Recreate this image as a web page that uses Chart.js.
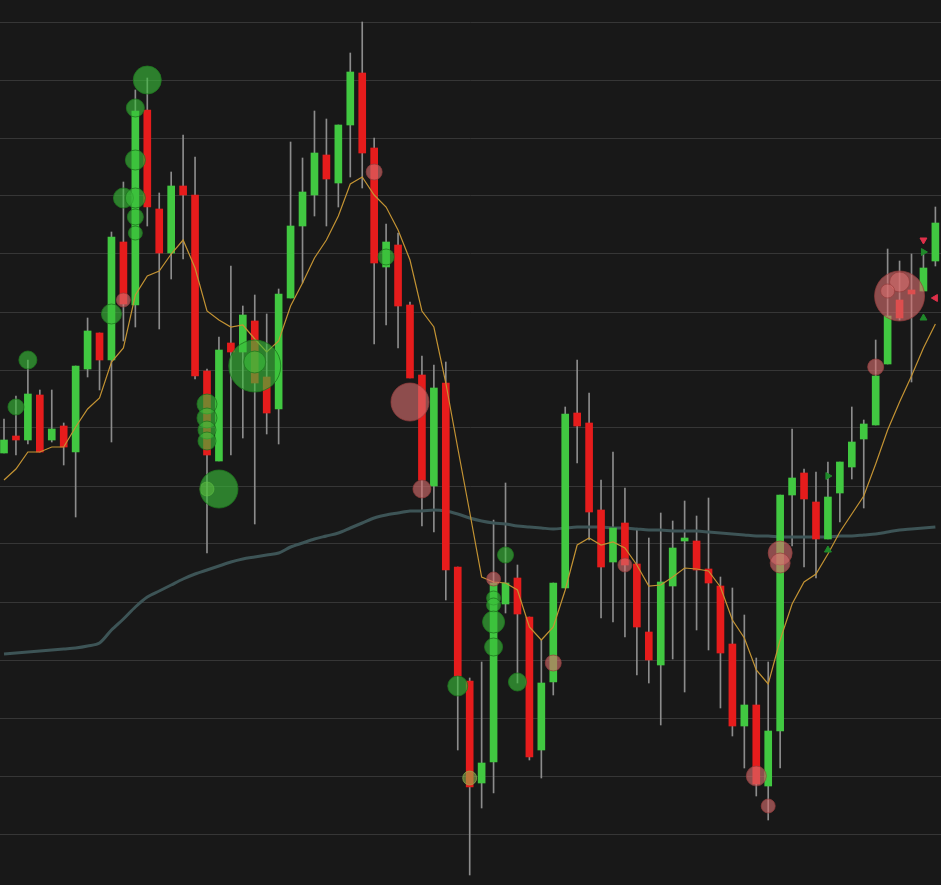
<!DOCTYPE html>
<html>
<head>
<meta charset="utf-8">
<script src="https://cdn.jsdelivr.net/npm/chart.js@4.4.1/dist/chart.umd.min.js"></script>
<style>
  html, body { margin: 0; padding: 0; background: #181818; }
  canvas { display: block; }
</style>
</head>
<body>
<canvas id="grafica" width="941" height="885"></canvas>
<script>
// datos de velas (índice = sesión)
const opens  = [43.2,44.9,44.5,49.0,44.5,45.9,43.3,51.6,55.2,52.5,64.3,58.0,77.5,67.6,63.2,69.9,69.0,51.4,42.4,54.2,
                53.3,56.4,50.8,47.6,58.7,65.9,69.0,73.0,70.2,76.0,81.2,73.7,61.8,64.0,58.0,51.0,39.9,50.2,31.8,20.4,
                10.2,12.3,28.1,30.7,26.8,13.5,20.3,29.7,47.2,46.2,37.5,32.3,36.2,32.1,25.3,22.0,29.9,34.4,34.4,31.6,
                29.9,24.1,15.9,18.0,9.9,15.4,39.0,41.2,38.3,34.6,39.2,41.8,44.6,46.0,52.1,58.5,59.5,59.4,62.4];
const closes = [44.5,44.5,49.1,43.3,45.6,43.8,51.9,55.4,52.5,64.8,58.1,77.4,67.8,63.2,69.9,69.0,50.9,43.0,53.5,53.3,
                57.0,50.2,47.2,59.1,65.9,69.3,73.2,70.6,76.0,81.3,73.2,62.2,64.3,57.9,50.7,40.5,49.7,31.5,20.9,9.8,
                12.2,30.2,30.2,27.1,12.8,20.2,30.2,47.1,45.9,37.3,31.8,35.7,32.0,25.8,22.5,30.3,33.7,34.7,31.5,30.2,
                23.2,15.9,18.0,10.1,15.4,39.0,40.7,38.6,34.6,38.8,42.3,44.3,46.1,50.9,56.9,56.7,59.1,61.7,66.2];
const highs  = [46.6,48.9,52.5,49.5,49.5,46.2,51.9,56.7,55.2,65.3,70.3,79.5,80.7,69.2,71.3,75.0,72.8,51.6,54.8,61.9,
                57.9,59.0,57.1,59.6,74.3,72.7,77.4,76.6,76.0,83.2,86.3,74.7,66.1,65.2,58.3,52.9,52.0,52.3,31.8,20.7,
                22.3,36.5,40.2,32.0,26.8,24.5,30.2,47.8,52.5,49.2,40.5,43.3,39.7,35.5,34.7,37.2,36.4,38.4,36.9,38.7,
                30.8,29.7,27.0,22.7,22.3,39.0,45.6,41.6,41.3,42.3,42.3,47.8,46.5,54.5,63.6,62.4,63.1,63.1,67.8];
const lows   = [43.2,43.0,44.1,43.3,44.3,42.0,36.8,50.8,49.5,44.3,54.4,55.8,65.9,55.6,60.6,62.6,50.6,33.2,42.4,43.0,
                44.7,36.1,45.1,44.1,58.7,60.2,66.9,65.9,67.8,70.8,69.7,54.1,56.0,53.7,50.7,35.9,35.3,28.5,13.5,1.0,
                7.7,9.2,27.2,20.2,12.5,10.7,19.0,29.7,42.2,34.5,26.7,26.3,24.8,21.0,20.2,16.0,22.6,19.3,25.5,23.5,
                17.7,14.9,11.7,8.9,6.5,11.7,33.9,31.8,30.7,34.6,36.3,40.6,37.7,46.0,52.1,56.5,50.3,59.4,61.9];

// media corta (naranja) y media larga (gris azulado)
const smaCorta = [40.5,41.6,43.3,43.3,43.8,43.8,45.8,47.6,48.7,52.3,53.7,59.0,60.9,61.4,63.1,64.5,61.7,57.4,56.5,55.8,
                  56.0,54.6,53.3,54.4,57.9,60.2,62.7,64.5,66.9,70.1,70.8,69.0,67.8,65.5,62.5,57.4,55.8,50.2,43.7,37.3,
                  30.8,30.3,30.2,29.5,25.8,24.5,25.8,29.5,34.0,34.7,34.0,34.3,33.7,32.0,29.9,30.0,30.8,31.7,31.6,31.4,
                  29.8,26.5,24.7,21.5,20.1,24.5,28.1,30.3,31.1,33.1,35.3,37.1,38.9,42.1,45.5,48.3,50.9,53.7,56.1];
const smaLarga = [23.1,23.2,23.3,23.4,23.5,23.6,23.7,23.9,24.2,25.5,26.6,27.8,28.8,29.4,30.0,30.6,31.1,31.5,31.9,32.3,
                  32.6,32.8,33.0,33.2,33.8,34.2,34.6,34.9,35.2,35.7,36.2,36.7,37.0,37.2,37.4,37.4,37.5,37.4,37.1,36.7,
                  36.4,36.2,36.1,35.9,35.8,35.7,35.6,35.7,35.8,35.8,35.8,35.7,35.7,35.6,35.5,35.5,35.4,35.4,35.4,35.3,
                  35.2,35.1,35.0,34.9,34.9,34.8,34.8,34.8,34.8,34.8,34.9,34.9,35.0,35.1,35.3,35.5,35.6,35.7,35.8];

// operaciones: [índice, precio, tamaño]
const comprasG = [[1,47.8,8],[2,52.5,9],[9,57.1,10],[10,68.7,10],[11,77.7,9],[11,72.5,10],[11,68.7,10],[11,66.8,8],
                  [11,65.2,7],[12,80.5,14],[17,48.1,10],[17,46.7,10],[17,45.5,9],[17,44.4,9],[18,39.6,19],
                  [21,51.9,26],[21,52.3,11],[32,62.8,8],[38,19.9,10],[41,28.7,7],[41,28.0,7],[41,26.3,11],
                  [41,23.8,9],[42,33.0,8],[43,20.3,9]];
const comprasClaras = [[17,39.6,7],[39,10.7,7]];
const ventasR = [[10,58.5,7],[31,71.3,8],[34,48.3,19],[35,39.6,9],[41,30.6,7],[46,22.2,8],[52,32.0,7],[63,10.9,10],
                 [64,7.9,7],[65,33.2,12],[65,32.2,10],[73,51.8,8],[75,58.9,25],[75,60.3,10],[74,59.4,7]];
const flechas = [[77,64.5,180,"#e0304a"],[77,56.7,0,"#1f8a2a"],[69,33.5,0,"#1f8a2a"],[69,40.9,90,"#1f8a2a"],
                 [77,63.3,90,"#1f8a2a"],[78,58.7,270,"#e0304a"]];

const nivelesGrilla = [86.3,80.5,74.7,68.9,63.1,57.3,51.5,45.7,39.9,34.1,28.3,22.5,16.7,10.9,5.1];

const VERDE = "#41c841";
const ROJO = "#e61c1c";

const fondo = {
    id: "fondo",
    beforeDraw(c) {
        const ctx = c.ctx;
        ctx.save();
        ctx.fillStyle = "#181818";
        ctx.fillRect(0, 0, c.width, c.height);
        ctx.restore();
    }
};

const idx = opens.map((_, i) => i);
const colores = idx.map(i => closes[i] >= opens[i] ? VERDE : ROJO);
const aBurbuja = arr => arr.map(b => ({ x: b[0], y: b[1], r: b[2] }));

new Chart(document.getElementById("grafica"), {
    data: {
        datasets: [
            {
                type: "bubble", order: 0, clip: false,
                data: aBurbuja(comprasG),
                backgroundColor: "rgba(58,190,58,0.62)", borderColor: "rgba(30,120,30,0.8)", borderWidth: 1
            },
            {
                type: "bubble", order: 0, clip: false,
                data: aBurbuja(comprasClaras),
                backgroundColor: "rgba(150,190,80,0.55)", borderColor: "rgba(150,190,80,0.6)", borderWidth: 1
            },
            {
                type: "bubble", order: 0, clip: false,
                data: aBurbuja(ventasR),
                backgroundColor: "rgba(215,110,110,0.62)", borderColor: "rgba(150,60,60,0.7)", borderWidth: 1
            },
            {
                type: "scatter", order: 0, clip: false,
                data: flechas.map(f => ({ x: f[0], y: f[1] })),
                pointStyle: "triangle", pointRadius: 4,
                rotation: flechas.map(f => f[2]),
                backgroundColor: flechas.map(f => f[3]), borderColor: flechas.map(f => f[3])
            },
            {
                type: "line", order: 1,
                data: idx.map(i => ({ x: i, y: smaCorta[i] })),
                borderColor: "#c39333", borderWidth: 1.2, pointRadius: 0, tension: 0
            },
            {
                type: "bar", order: 2, grouped: false,
                data: idx.map(i => ({ x: i, y: [opens[i], closes[i]] })),
                backgroundColor: colores, borderColor: colores, borderWidth: 0,
                barThickness: 7, minBarLength: 2
            },
            {
                type: "line", order: 3,
                data: idx.map(i => ({ x: i, y: smaLarga[i] })),
                borderColor: "#3d5456", borderWidth: 3, pointRadius: 0, tension: 0.3
            },
            {
                type: "bar", order: 4, grouped: false,
                data: idx.map(i => ({ x: i, y: [lows[i], highs[i]] })),
                backgroundColor: "#8c8c8c", borderWidth: 0, barThickness: 1
            }
        ]
    },
    options: {
        responsive: false,
        animation: false,
        devicePixelRatio: 1,
        layout: { padding: 0, autoPadding: false },
        plugins: { legend: { display: false }, tooltip: { enabled: false } },
        scales: {
            x: { type: "linear", min: -0.335, max: 78.47, display: false, offset: false },
            y: {
                min: 0, max: 88.5,
                border: { display: false },
                ticks: { display: false },
                grid: { color: "#363636", lineWidth: 1, drawTicks: false },
                afterBuildTicks: s => { s.ticks = nivelesGrilla.map(v => ({ value: v })); },
                afterFit: s => { s.width = 0; }
            }
        }
    },
    plugins: [fondo]
});
</script>
</body>
</html>
